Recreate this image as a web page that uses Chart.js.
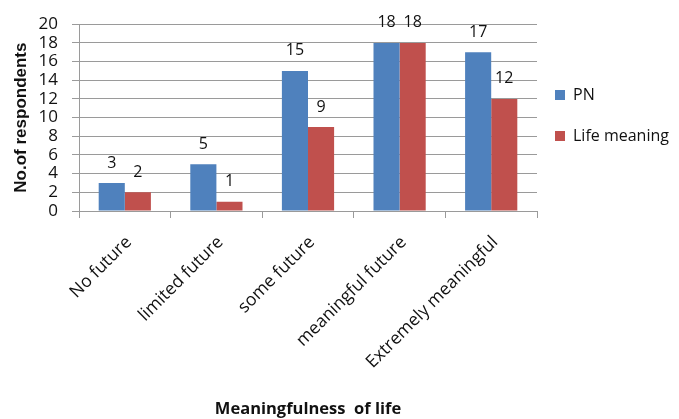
<!DOCTYPE html>
<html>
<head>
<meta charset="utf-8">
<script src="https://cdn.jsdelivr.net/npm/chart.js@4/dist/chart.umd.min.js"></script>
<style>
  html, body { margin: 0; padding: 0; background: #ffffff; }
  canvas { display: block; }
</style>
</head>
<body>
<canvas id="chart" width="679" height="419"></canvas>
<script>
// Survey answers: how meaningful respondents find their future / life
const categories = ['No future', 'limited future', 'some future', 'meaningful future', 'Extremely meaningful'];
const pnValues = [3, 5, 15, 18, 17];
const lifeMeaningValues = [2, 1, 9, 18, 12];
const seriesNames = ['PN', 'Life meaning'];
const yTickValues = [0, 2, 4, 6, 8, 10, 12, 14, 16, 18, 20];

const BLUE = '#4f81bd';
const RED = '#c0504d';
const GRID = '#9a9a9a';
const TEXT = '#111111';

// Writes each bar's value above it
const valueLabels = {
  id: 'valueLabels',
  afterDatasetsDraw(chart) {
    const ctx = chart.ctx;
    ctx.save();
    ctx.font = '16px "Open Sans"';
    ctx.fillStyle = TEXT;
    ctx.textAlign = 'center';
    ctx.textBaseline = 'middle';
    chart.data.datasets.forEach((ds, i) => {
      chart.getDatasetMeta(i).data.forEach((bar, j) => {
        ctx.fillText(String(ds.data[j]), bar.x, bar.y - 20);
      });
    });
    ctx.restore();
  }
};

// Keeps the legend in a fixed column to the right of the plot
const legendColumn = {
  id: 'legendColumn',
  beforeInit(chart) {
    const legend = chart.legend;
    if (!legend) return;
    const fit = legend.fit;
    legend.fit = function () {
      fit.call(this);
      this.width = 142;
    };
  },
  afterLayout(chart) {
    const legend = chart.legend;
    if (!legend) return;
    const pad = legend.options.labels.padding;
    legend.left = 555 - pad;
    legend.right = 679;
    legend.top = 62;
  }
};

new Chart(document.getElementById('chart'), {
  type: 'bar',
  data: {
    labels: categories,
    datasets: [
      { label: seriesNames[0], data: pnValues, backgroundColor: BLUE, borderWidth: 0 },
      { label: seriesNames[1], data: lifeMeaningValues, backgroundColor: RED, borderWidth: 0 }
    ]
  },
  options: {
    responsive: false,
    animation: false,
    layout: { padding: { top: 21, left: 0, right: 0, bottom: 0 } },
    datasets: {
      bar: { categoryPercentage: 0.57, barPercentage: 1.0 }
    },
    plugins: {
      tooltip: { enabled: false },
      legend: {
        position: 'right',
        align: 'start',
        labels: {
          boxWidth: 10,
          boxHeight: 10,
          padding: 25,
          color: TEXT,
          font: { family: '"Open Sans"', size: 16 }
        }
      }
    },
    scales: {
      x: {
        offset: true,
        grid: {
          display: true,
          offset: true,
          drawOnChartArea: false,
          drawTicks: true,
          tickLength: 7,
          color: GRID
        },
        border: { display: true, color: GRID },
        ticks: {
          minRotation: 45,
          maxRotation: 45,
          padding: 14,
          labelOffset: 4,
          color: TEXT,
          font: { family: '"Open Sans"', size: 17.5 }
        },
        title: {
          display: true,
          text: 'Meaningfulness  of life',
          color: TEXT,
          font: { family: '"Open Sans"', size: 16.5, weight: 'bold' },
          padding: { top: 0, bottom: 0 }
        },
        afterFit(scale) { scale.height = 419 - 211; }
      },
      y: {
        min: yTickValues[0],
        max: yTickValues[yTickValues.length - 1],
        afterBuildTicks(scale) { scale.ticks = yTickValues.map(v => ({ value: v })); },
        grid: {
          color: GRID,
          drawTicks: true,
          tickLength: 7
        },
        border: { display: true, color: GRID },
        ticks: {
          autoSkip: false,
          padding: 14,
          color: TEXT,
          font: { family: '"Open Sans"', size: 17 }
        },
        title: {
          display: true,
          text: 'No.of respondents',
          color: TEXT,
          font: { family: '"Liberation Sans"', size: 17, weight: 'bold' },
          padding: { top: 11, bottom: 0 }
        },
        afterFit(scale) { scale.width = 79; }
      }
    }
  },
  plugins: [valueLabels, legendColumn]
});
</script>
</body>
</html>
